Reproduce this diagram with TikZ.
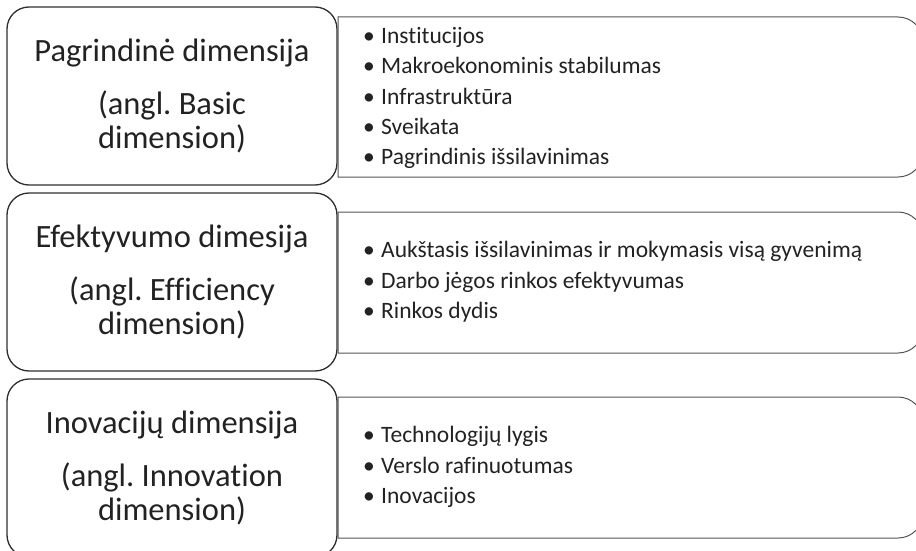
\documentclass[tikz,border=0pt]{standalone}
\usepackage{fontspec}
\setmainfont{Carlito}[RawFeature=-liga]
\definecolor{ink}{HTML}{222222}
\definecolor{edgedark}{HTML}{2E2E2E}
\definecolor{edgegray}{HTML}{555555}
\begin{document}
\frenchspacing
\begin{tikzpicture}[x=1pt,y=1pt,
  dimbox/.style={draw=edgedark, line width=1.3pt, rounded corners=22pt,
    minimum width=330pt, minimum height=178pt, align=center, text=ink,
    font=\fontsize{32.5}{34}\selectfont},
  listtext/.style={anchor=west, align=left, text=ink, inner sep=0pt,
    font=\fontsize{23.5}{30.3}\selectfont},
  listframe/.style={draw=edgegray, line width=1pt}]
\useasboundingbox (0,0) rectangle (916,-551);

% dimension boxes on the left
\node[dimbox] (d1) at (172,-96) {Pagrindinė dimensija\\[19pt](angl. Basic\\dimension)};
\node[dimbox] (d2) at (172,-282) {Efektyvumo dimesija\\[19pt](angl. Efficiency\\dimension)};
\node[dimbox] (d3) at (172,-468) {Inovacijų dimensija\\[19pt](angl. Innovation\\dimension)};

% frames of the factor lists, rounded on the right only
\newcommand{\listframe}[2]{%
  \draw[listframe] (338,#1) -- (898,#1)
    arc[start angle=90, end angle=0, radius=25]
    -- (923,#2+25)
    arc[start angle=0, end angle=-90, radius=25]
    -- (338,#2) -- cycle;}
\listframe{-17}{-177}
\listframe{-212}{-353}
\listframe{-397}{-538}

\newcommand{\itm}[1]{\makebox[18pt][l]{•}#1}
\node[listtext] (l1) at (363,-98) {\itm{Institucijos}\\\itm{Makroekonominis stabilumas}\\\itm{Infrastruktūra}\\\itm{Sveikata}\\\itm{Pagrindinis išsilavinimas}};
\node[listtext] (l2) at (363,-282) {\itm{Aukštasis išsilavinimas ir mokymasis visą gyvenimą}\\\itm{Darbo jėgos rinkos efektyvumas}\\\itm{Rinkos dydis}};
\node[listtext] (l3) at (363,-467) {\itm{Technologijų lygis}\\\itm{Verslo rafinuotumas}\\\itm{Inovacijos}};
\end{tikzpicture}
\end{document}
